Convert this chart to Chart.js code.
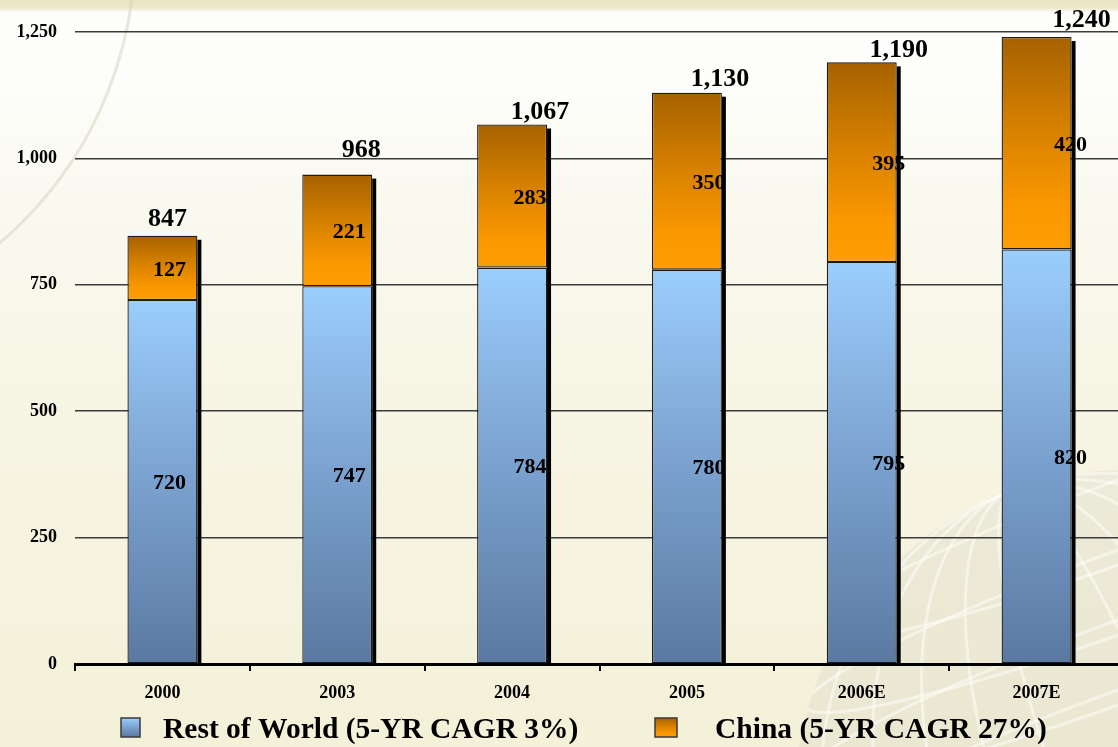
<!DOCTYPE html>
<html>
<head>
<meta charset="utf-8">
<script src="https://cdn.jsdelivr.net/npm/chart.js@4.4.1/dist/chart.umd.min.js"></script>
<style>
  html, body { margin: 0; padding: 0; width: 1118px; height: 747px; overflow: hidden; }
  body {
    background: linear-gradient(180deg, #ebe4c0 0px, #efe9cb 8px, #fcfcf8 12px, #fefefd 45px,
                #faf9f0 200px, #f7f5e4 400px, #f4f1d9 747px);
  }
  #wrap { position: relative; width: 1124px; height: 747px; }
</style>
</head>
<body>
<div id="wrap"><canvas id="chart"></canvas></div>
<script>
// ---- data ----
const categories   = ['2000', '2003', '2004', '2005', '2006E', '2007E'];
const restOfWorld  = [720, 747, 784, 780, 795, 820];
const china        = [127, 221, 283, 350, 395, 420];
const totals       = [847, 968, 1067, 1130, 1190, 1240];
const yTickValues  = [0, 250, 500, 750, 1000, 1250];
const seriesNames  = ['Rest of World (5-YR CAGR 3%)', 'China (5-YR CAGR 27%)'];

// ---- styling ----
const FONT = "'Liberation Serif', 'Times New Roman', Times, serif";
const segLabelShift   = [7, 12, 18, 22, 27, 34];   // px nudges of the in-bar labels
const totalLabelShift = [5, 24, 28, 33, 37, 45];   // px nudges of the total labels
const totalLabelLift  = [10, 18, 6, 7, 5, 10];     // px gap between bar top and total label
const blueStops   = [[0, '#9bcefc'], [0.45, '#7ea5d3'], [1, '#5a79a1']];
const orangeStops = [[0, '#a66200'], [0.45, '#d98200'], [0.8, '#fb9800'], [1, '#ff9d05']];

function fmt(v) { return v.toLocaleString('en-US'); }

function makeGradient(ctx, top, bottom, stops) {
  const g = ctx.createLinearGradient(0, top, 0, bottom);
  stops.forEach(([p, c]) => g.addColorStop(p, c));
  return g;
}

// one vertical gradient per stacked segment
function segmentFill(stops) {
  return (c) => {
    const chart = c.chart;
    if (!chart.chartArea || c.type !== 'data') return stops[stops.length - 1][1];
    const y = chart.scales.y;
    const i = c.dataIndex;
    let lo = 0;
    for (let d = 0; d < c.datasetIndex; d++) lo += chart.data.datasets[d].data[i];
    const hi = lo + chart.data.datasets[c.datasetIndex].data[i];
    return makeGradient(chart.ctx, y.getPixelForValue(hi), y.getPixelForValue(lo), stops);
  };
}

// faint globe watermark and arc in the backdrop
const backdrop = {
  id: 'backdrop',
  beforeDraw(chart) {
    const ctx = chart.ctx;
    ctx.save();
    ctx.beginPath();
    ctx.arc(1125, 800, 330, 0, Math.PI * 2);
    ctx.clip();
    ctx.fillStyle = 'rgba(180,178,165,0.14)';
    ctx.fillRect(780, 460, 360, 300);
    ctx.strokeStyle = 'rgba(255,255,252,0.5)';
    ctx.lineWidth = 3;
    for (let k = 1; k <= 5; k++) {
      ctx.beginPath();
      ctx.ellipse(1125, 800, 330 * k / 5.5, 330, -0.35, 0, Math.PI * 2);
      ctx.stroke();
    }
    for (let k = -4; k <= 4; k++) {
      ctx.beginPath();
      ctx.ellipse(1125, 800 + k * 70, 340, 40, -0.35, 0, Math.PI * 2);
      ctx.stroke();
    }
    ctx.restore();

    ctx.save();
    ctx.strokeStyle = 'rgba(214,210,190,0.5)';
    ctx.lineWidth = 3;
    ctx.beginPath();
    ctx.arc(-250, -50, 385, 0, Math.PI / 2);
    ctx.stroke();
    ctx.restore();
  }
};

// drop shadow along the right side of each stacked column
const barShadow = {
  id: 'barShadow',
  beforeDatasetsDraw(chart) {
    const ctx = chart.ctx;
    const bottomMeta = chart.getDatasetMeta(0);
    const topMeta = chart.getDatasetMeta(chart.data.datasets.length - 1);
    ctx.save();
    ctx.fillStyle = '#000';
    topMeta.data.forEach((bar, i) => {
      const p = bar.getProps(['x', 'y', 'width'], true);
      const base = bottomMeta.data[i].getProps(['base'], true).base;
      ctx.fillRect(p.x + p.width / 2, p.y + 4, 4, base - p.y - 4);
    });
    ctx.restore();
  }
};

// value labels inside segments and totals above columns
const valueLabels = {
  id: 'valueLabels',
  afterDatasetsDraw(chart) {
    const ctx = chart.ctx;
    ctx.save();
    ctx.fillStyle = '#000';
    ctx.textAlign = 'center';
    chart.data.datasets.forEach((ds, d) => {
      const meta = chart.getDatasetMeta(d);
      ctx.font = `bold 22px ${FONT}`;
      ctx.textBaseline = 'middle';
      meta.data.forEach((bar, i) => {
        const p = bar.getProps(['x', 'y', 'base'], true);
        ctx.fillText(fmt(ds.data[i]), p.x + segLabelShift[i], (p.y + p.base) / 2 + 2);
      });
    });
    const yScale = chart.scales.y;
    const topMeta = chart.getDatasetMeta(chart.data.datasets.length - 1);
    ctx.font = `bold 26px ${FONT}`;
    ctx.textBaseline = 'alphabetic';
    topMeta.data.forEach((bar, i) => {
      const x = bar.getProps(['x'], true).x;
      const yTop = yScale.getPixelForValue(totals[i]);
      ctx.fillText(fmt(totals[i]), x + totalLabelShift[i], yTop - totalLabelLift[i]);
    });
    ctx.restore();
  }
};

// legend row under the category labels
const legendRow = {
  id: 'legendRow',
  afterDraw(chart) {
    const ctx = chart.ctx;
    const items = [
      { box: 121, text: 163, stops: blueStops },
      { box: 655, text: 715, stops: orangeStops }
    ];
    ctx.save();
    ctx.font = `bold 29.5px ${FONT}`;
    ctx.textBaseline = 'alphabetic';
    ctx.textAlign = 'left';
    chart.data.datasets.forEach((ds, d) => {
      const it = items[d];
      const top = 718, size = 19;
      ctx.fillStyle = makeGradient(ctx, top, top + size, it.stops);
      ctx.fillRect(it.box, top, size + (d ? 3 : 0), size);
      ctx.strokeStyle = '#3a3a3a';
      ctx.lineWidth = 1.5;
      ctx.strokeRect(it.box, top, size + (d ? 3 : 0), size);
      ctx.fillStyle = '#000';
      ctx.fillText(ds.label, it.text, 738);
    });
    ctx.restore();
  }
};

new Chart(document.getElementById('chart'), {
  type: 'bar',
  data: {
    labels: categories,
    datasets: [
      {
        label: seriesNames[0],
        data: restOfWorld,
        backgroundColor: segmentFill(blueStops),
        borderColor: '#1c1c1c',
        borderWidth: 1.3,
        borderSkipped: false
      },
      {
        label: seriesNames[1],
        data: china,
        backgroundColor: segmentFill(orangeStops),
        borderColor: '#1c1c1c',
        borderWidth: 1.3,
        borderSkipped: false
      }
    ]
  },
  options: {
    responsive: true,
    maintainAspectRatio: false,
    animation: false,
    layout: { padding: { top: 32, left: 0, right: 0, bottom: 0 } },
    datasets: { bar: { categoryPercentage: 1, barPercentage: 0.4 } },
    plugins: {
      legend: { display: false },
      tooltip: { enabled: false },
      title: { display: false }
    },
    scales: {
      x: {
        stacked: true,
        grid: {
          offset: true,
          drawOnChartArea: false,
          drawTicks: true,
          tickLength: 7,
          color: '#000',
          lineWidth: 2
        },
        border: { display: true, color: '#000', width: 3 },
        ticks: {
          color: '#000',
          padding: 12,
          font: { family: FONT, size: 18, weight: 'bold' }
        },
        afterFit(scale) { scale.height = 83; }
      },
      y: {
        stacked: true,
        min: yTickValues[0],
        max: yTickValues[yTickValues.length - 1],
        afterBuildTicks(scale) { scale.ticks = yTickValues.map(v => ({ value: v })); },
        grid: {
          drawTicks: false,
          color: (c) => (c.tick && c.tick.value === 0 ? 'rgba(0,0,0,0)' : '#3c3c3c'),
          lineWidth: 1.5
        },
        border: { display: false },
        ticks: {
          color: '#000',
          padding: 18,
          font: { family: FONT, size: 18, weight: 'bold' },
          callback: (v) => fmt(v)
        },
        afterFit(scale) { scale.width = 75; }
      }
    }
  },
  plugins: [backdrop, barShadow, valueLabels, legendRow]
});
</script>
</body>
</html>
